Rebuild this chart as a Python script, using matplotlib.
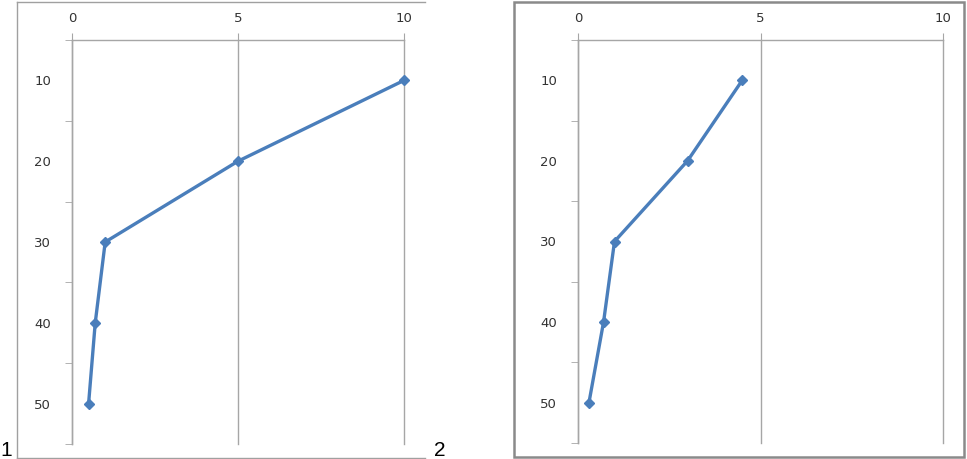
import matplotlib.pyplot as plt
from matplotlib.lines import Line2D
from matplotlib.patches import Rectangle

# depth (y) vs value (x) for the two profiles
depth = [10, 20, 30, 40, 50]
values_1 = [10, 5, 1.0, 0.7, 0.5]
values_2 = [4.5, 3.0, 1.0, 0.7, 0.3]
x_ticks = [0, 5, 10]
y_labels = [10, 20, 30, 40, 50]
y_marks = [5, 15, 25, 35, 45, 55]

W, H = 967, 459
fig = plt.figure(figsize=(W / 100, H / 100), dpi=100)

line_col = '#4A7EBB'
grid_col = '#a6a6a6'


def panel(left_px, right_px, top_px, bottom_px, vals):
    ax = fig.add_axes([left_px / W, 1 - bottom_px / H,
                       (right_px - left_px) / W, (bottom_px - top_px) / H])
    ax.plot(vals, depth, color=line_col, lw=2.4, marker='D', ms=5.5,
            mec=line_col, mfc=line_col, clip_on=False, zorder=5)
    ax.set_xlim(0, 10)
    ax.set_ylim(55, 5)
    ax.xaxis.tick_top()
    ax.set_xticks(x_ticks)
    ax.tick_params(axis='x', length=5, color=grid_col, labelsize=9.5,
                   pad=6, labelcolor='#333333')
    # labels at 10,20.. without marks, marks at 5,15,.. without labels
    ax.set_yticks(y_labels)
    ax.set_yticks(y_marks, minor=True)
    ax.tick_params(axis='y', which='major', length=0, labelsize=9.5,
                   pad=15, labelcolor='#333333')
    ax.tick_params(axis='y', which='minor', length=5, color=grid_col)
    ax.grid(axis='x', color=grid_col, lw=1)
    for gl in ax.get_xgridlines():
        gl.set_clip_on(False)
    for s in ['right', 'bottom']:
        ax.spines[s].set_visible(False)
    for s in ['top', 'left']:
        ax.spines[s].set_color(grid_col)
        ax.spines[s].set_linewidth(1)
    return ax


panel(72, 404, 40, 444, values_1)
panel(578, 943, 40, 443, values_2)

# outer frames
fc = '#a0a0a0'
fig.add_artist(Line2D([17 / W, 425 / W], [1 - 2 / H, 1 - 2 / H], color=fc, lw=1))
fig.add_artist(Line2D([17 / W, 425 / W], [1 - 458 / H, 1 - 458 / H], color=fc, lw=1))
fig.add_artist(Line2D([17 / W, 17 / W], [1 - 2 / H, 1 - 458 / H], color=fc, lw=1))
fig.add_artist(Rectangle((514 / W, 1 - 457 / H), 450 / W, 455 / H,
                         fill=False, ec='#8a8a8a', lw=1.8))

fig.text(6 / W, 1 - 451 / H, '1', fontsize=15, family='Liberation Sans',
         ha='center', va='center')
fig.text(440 / W, 1 - 451 / H, '2', fontsize=15, family='Liberation Sans',
         ha='center', va='center')

fig.savefig('out.png', dpi=100)
